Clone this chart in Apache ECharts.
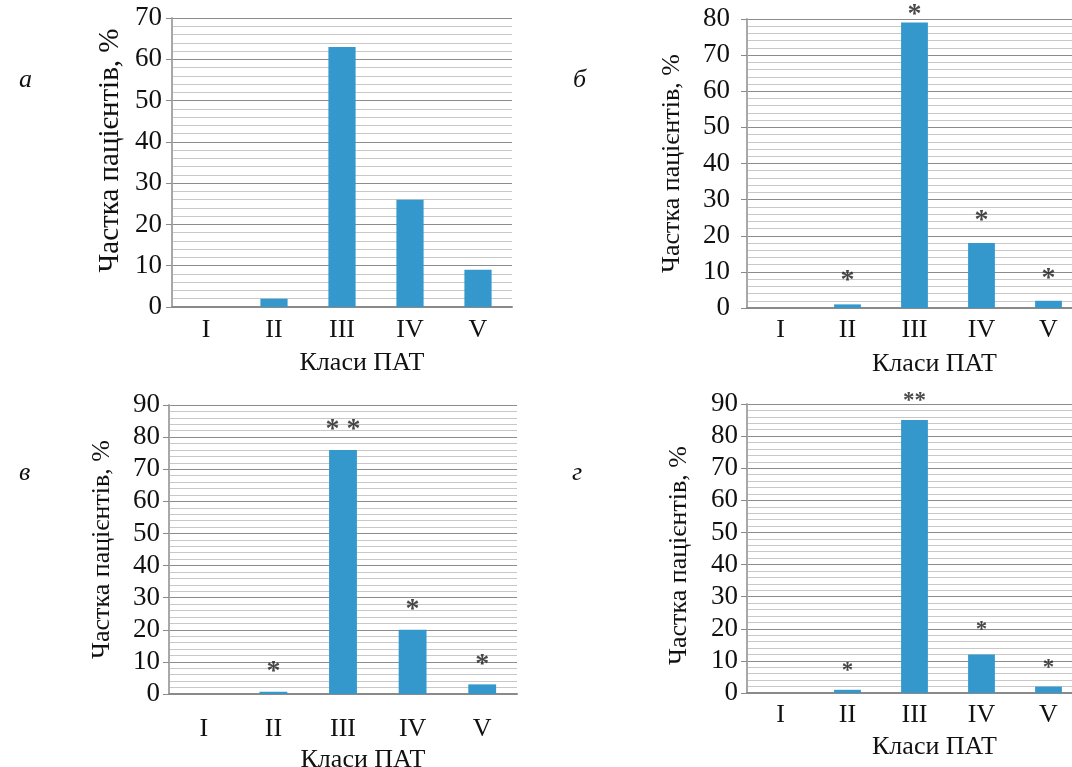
<!DOCTYPE html>
<html>
<head>
<meta charset="utf-8">
<script src="https://cdn.jsdelivr.net/npm/echarts@6/dist/echarts.min.js"></script>
<style>
  html, body { margin: 0; padding: 0; background: #ffffff; }
  #chart { width: 1072px; height: 767px; }
</style>
</head>
<body>
<div id="chart"></div>
<script>
// ---- data ----
const categories = ['I', 'II', 'III', 'IV', 'V'];
const panelLetters = ['а', 'б', 'в', 'г'];
const yTitle = 'Частка пацієнтів, %';
const xTitle = 'Класи ПАТ';

const valuesA = [0, 2, 63, 26, 9];
const valuesB = [0, 1, 79, 18, 2];
const valuesV = [0, 0.7, 76, 20, 3];
const valuesG = [0, 1, 85, 12, 2];

const yMaxA = 70, yMaxB = 80, yMaxV = 90, yMaxG = 90;

const starsA = ['', '', '', '', ''];
const starsB = ['', '*', '*', '*', '*'];
const starsV = ['', '*', '* *', '*', '*'];
const starsG = ['', '*', '**', '*', '*'];

const starLevelA = [null, null, null, null, null];
const starLevelB = [null, 9.4, 83.2, 26.2, 9.9];
const starLevelV = [null, 9.0, 84.4, 28.3, 11.2];
const starLevelG = [null, 8.7, 92.8, 21.5, 9.7];

// ---- layout / style ----
const FONT = "'Liberation Serif', 'Times New Roman', serif";
const BAR = '#3598cc';
const panels = [
  { vals: valuesA, max: yMaxA, stars: starsA, lv: starLevelA, starSize: 28, yNameSize: 29, yNamePad: [0, 0, 0, 24],
    grid: { left: 172, top: 18, width: 340, height: 289 },
    yLabelMargin: 10, yNameGap: 47, xLabelMargin: 10, xNameGap: 43,
    letter: { left: 14, top: 62 } },
  { vals: valuesB, max: yMaxB, stars: starsB, lv: starLevelB, starSize: 28, yNameSize: 26, yNamePad: [0, 0, 0, 0],
    grid: { left: 747, top: 19, width: 335, height: 289 },
    yLabelMargin: 17, yNameGap: 62, xLabelMargin: 9, xNameGap: 43,
    letter: { left: 568, top: 62 } },
  { vals: valuesV, max: yMaxV, stars: starsV, lv: starLevelV, starSize: 28, yNameSize: 26, yNamePad: [0, 0, 0, 0],
    grid: { left: 169, top: 405, width: 348, height: 289 },
    yLabelMargin: 9, yNameGap: 54, xLabelMargin: 22, xNameGap: 53,
    letter: { left: 14, top: 455 } },
  { vals: valuesG, max: yMaxG, stars: starsG, lv: starLevelG, starSize: 23, yNameSize: 26, yNamePad: [0, 14, 0, 0],
    grid: { left: 747, top: 404, width: 335, height: 289 },
    yLabelMargin: 9, yNameGap: 55, xLabelMargin: 9, xNameGap: 41,
    letter: { left: 567, top: 455 } }
];

const option = {
  backgroundColor: '#ffffff',
  animation: false,
  title: [],
  grid: [],
  xAxis: [],
  yAxis: [],
  series: []
};

panels.forEach((p, i) => {
  option.title.push({
    text: panelLetters[i], left: p.letter.left, top: p.letter.top,
    textStyle: { fontFamily: FONT, fontStyle: 'italic', fontWeight: 'normal', fontSize: 26, color: '#111' }
  });
  option.grid.push(Object.assign({ outerBoundsMode: 'none', containLabel: false }, p.grid));
  option.xAxis.push({
    type: 'category', gridIndex: i, data: categories,
    axisLine: { show: true, lineStyle: { color: '#8a8a8a', width: 2 } },
    axisTick: { show: false },
    axisLabel: { fontFamily: FONT, fontSize: 26, color: '#111', margin: p.xLabelMargin },
    name: xTitle, nameLocation: 'middle', nameGap: p.xNameGap,
    nameTextStyle: { fontFamily: FONT, fontSize: 26, color: '#111', padding: [0, 0, 0, 40] },
    splitLine: { show: false }
  });
  option.yAxis.push({
    type: 'value', gridIndex: i, min: 0, max: p.max, interval: 10,
    axisLine: { show: true, lineStyle: { color: '#a8a8a8', width: 2 } },
    axisTick: { show: true, length: 6, lineStyle: { color: '#8a8a8a' } },
    axisLabel: { fontFamily: FONT, fontSize: 27, color: '#111', margin: p.yLabelMargin },
    splitLine: { show: true, lineStyle: { color: '#8c8c8c', width: 1 } },
    minorTick: { show: false, splitNumber: 5 },
    minorSplitLine: { show: true, lineStyle: { color: '#c8c8c8', width: 1 } },
    name: yTitle, nameLocation: 'middle', nameGap: p.yNameGap, nameRotate: 90,
    nameTextStyle: { fontFamily: FONT, fontSize: p.yNameSize, color: '#111', padding: p.yNamePad }
  });
  option.series.push({
    type: 'bar', xAxisIndex: i, yAxisIndex: i, data: p.vals,
    barWidth: '40%', itemStyle: { color: BAR }
  });
  option.series.push({
    type: 'scatter', xAxisIndex: i, yAxisIndex: i, clip: false, z: 5,
    data: p.lv.map((v, k) => (v == null ? null : [k, v, p.stars[k]])).filter(d => d),
    symbol: 'circle', symbolSize: 2,
    itemStyle: { color: 'rgba(0,0,0,0)' },
    label: {
      show: true, position: 'inside',
      formatter: (d) => d.value[2],
      fontFamily: FONT, fontSize: p.starSize, fontWeight: 'bold', color: '#1a1a1a',
      offset: [0, p.starSize * 0.25]
    }
  });
});

const chart = echarts.init(document.getElementById('chart'), null, { renderer: 'canvas' });
chart.setOption(option);
</script>
</body>
</html>
